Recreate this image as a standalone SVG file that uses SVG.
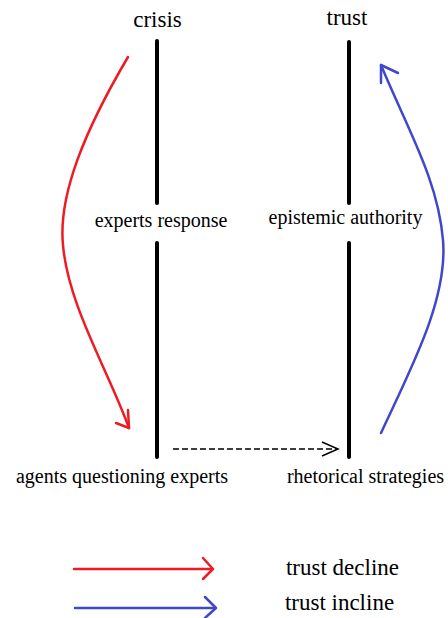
<svg xmlns="http://www.w3.org/2000/svg" width="448" height="618" viewBox="0 0 448 618">
<style>
text{font-family:'Liberation Serif','DejaVu Serif',serif;fill:#000;text-anchor:middle}
.t{font-size:23px}
.l{font-size:20px}
.axis{stroke:#000;stroke-width:4;stroke-linecap:round;fill:none}
.red{stroke:#ed1c24;stroke-width:2.5;fill:none;stroke-linecap:round;stroke-linejoin:round}
.blue{stroke:#3f48cc;stroke-width:2.5;fill:none;stroke-linecap:round;stroke-linejoin:round}
.dash{stroke:#000;stroke-width:1.5;fill:none;stroke-dasharray:6 3}
.head{stroke:#000;stroke-width:1.5;fill:none}
</style>
<rect width="448" height="618" fill="#fff"/>
<g id="crisis">
<text class="t" x="157.5" y="27">crisis</text>
<line class="axis" x1="157" y1="41" x2="157" y2="203"/>
<line class="axis" x1="157" y1="243" x2="157" y2="457"/>
</g>
<g id="trust">
<text class="t" x="347" y="25">trust</text>
<line class="axis" x1="349" y1="42" x2="349" y2="203"/>
<line class="axis" x1="349" y1="243" x2="349" y2="457"/>
</g>
<g id="experts-response"><text class="l" x="161" y="227">experts response</text></g>
<g id="epistemic-authority"><text class="l" x="345.5" y="224">epistemic authority</text></g>
<g id="agents-questioning-experts"><text class="l" x="122" y="483">agents questioning experts</text></g>
<g id="rhetorical-strategies"><text class="l" x="365.5" y="483">rhetorical strategies</text></g>
<g id="connectors">
<path class="red" d="M128,57 C 85,130 58,195 63,245 C 68,305 108,370 129,428"/>
<path class="red" d="M116,423 L129,428 L128,410"/>
<path class="blue" d="M381,433 C 410,370 448,300 443,240 C 438,180 408,130 381,65"/>
<path class="blue" d="M398,73 L381,65 L381,83"/>
<line class="dash" x1="173" y1="449" x2="337" y2="449"/>
<path class="head" d="M322,442 L338,449 L322,456"/>
</g>
<g id="legend">
<line class="red" x1="74" y1="569" x2="212" y2="569"/>
<path class="red" d="M203,558 L213,569 L203,579"/>
<text class="t" x="342.5" y="575">trust decline</text>
<line class="blue" x1="75" y1="608" x2="215" y2="608"/>
<path class="blue" d="M205,597 L216,608 L205,618"/>
<text class="t" x="339.5" y="610">trust incline</text>
</g>
</svg>
